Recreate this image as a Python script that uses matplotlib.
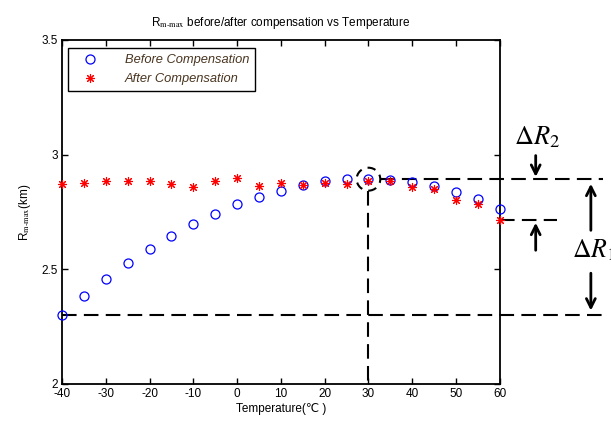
import numpy as np
import matplotlib
matplotlib.use("Agg")
import matplotlib.pyplot as plt
from matplotlib.patches import Ellipse

# Data
temps = [-40, -35, -30, -25, -20, -15, -10, -5, 0, 5, 10, 15, 20, 25, 30, 35, 40, 45, 50, 55, 60]
before = [2.30, 2.384, 2.458, 2.527, 2.590, 2.646, 2.696, 2.743, 2.783, 2.814, 2.843,
          2.867, 2.884, 2.893, 2.893, 2.890, 2.880, 2.864, 2.836, 2.806, 2.761]
after = [2.874, 2.877, 2.887, 2.883, 2.887, 2.872, 2.858, 2.883, 2.900, 2.862, 2.878,
         2.868, 2.878, 2.871, 2.884, 2.883, 2.858, 2.850, 2.804, 2.786, 2.713]
xticks = [-40, -30, -20, -10, 0, 10, 20, 30, 40, 50, 60]
yticks = [2, 2.5, 3, 3.5]

plt.rcParams['font.family'] = ['Liberation Sans', 'DejaVu Sans']
plt.rcParams['mathtext.fontset'] = 'stix'
plt.rcParams['axes.unicode_minus'] = False

fig = plt.figure(figsize=(6.11, 4.21), dpi=100)
ax = fig.add_axes([0.1015, 0.088, 0.7165, 0.817])

ax.plot(temps, before, 'o', ls='none', mfc='none', mec='#0000ff', ms=6.5, mew=0.9,
        label='Before Compensation', clip_on=False, zorder=3)
ax.plot(temps, after, marker=(8, 2, 0), ls='none', color='#ff0000', ms=6.5, mew=0.8,
        label='After Compensation', clip_on=False, zorder=3)

ax.set_xlim(-40, 60)
ax.set_ylim(2, 3.5)
ax.set_xticks(xticks)
ax.set_yticks(yticks)
ax.set_yticklabels(['2', '2.5', '3', '3.5'])
ax.tick_params(direction='in', length=4, width=1, top=True, right=True, labelsize=8.5, pad=3)
for s in ax.spines.values():
    s.set_linewidth(1.3)

ax.set_title(r'R$_{\mathrm{m\text{-}max}}$ before/after compensation vs Temperature', fontsize=8.5, pad=10)
ax.set_xlabel('Temperature(℃ )', fontsize=8.5, labelpad=2)
ax.set_ylabel(r'R$_{\mathrm{m\text{-}max}}$(km)', fontsize=8.5, labelpad=6)

leg = ax.legend(loc='upper left', bbox_to_anchor=(0.0, 0.995), fancybox=False, framealpha=1,
                edgecolor='black', fontsize=9.3, handletextpad=1.4, borderpad=0.45,
                labelspacing=0.55, handlelength=2.5)
leg.get_frame().set_linewidth(1.0)
for t in leg.get_texts():
    t.set_color('#4a3520')
    t.set_style('italic')

# annotation lines
top = max(before)
mid = after[-1]
low = before[0]
dash = (0, (7, 3.5))
lw = 1.5
ax.add_patch(Ellipse((30, top), 5.4, 0.1, fill=False, ls=(0, (4, 3)), lw=lw, color='black'))
ax.plot([32.7, 83.5], [top, top], color='black', ls=dash, lw=lw, clip_on=False)
ax.plot([30, 30], [top - 0.05, 2.0], color='black', ls=dash, lw=lw, clip_on=False)
ax.plot([60, 73], [mid, mid], color='black', ls=dash, lw=lw, clip_on=False)
ax.plot([-40, 83.5], [low, low], color='black', ls=dash, lw=lw, clip_on=False)

arr = dict(arrowstyle='->', color='black', lw=2, mutation_scale=16, shrinkA=0, shrinkB=0)
ax.annotate('', xy=(68.2, top + 0.01), xytext=(68.2, 2.996), arrowprops=arr, annotation_clip=False)
ax.annotate('', xy=(68.2, mid - 0.01), xytext=(68.2, 2.583), arrowprops=arr, annotation_clip=False)
ax.annotate('', xy=(80.8, top - 0.02), xytext=(80.8, 2.67), arrowprops=arr, annotation_clip=False)
ax.annotate('', xy=(80.8, low + 0.02), xytext=(80.8, 2.483), arrowprops=arr, annotation_clip=False)
ax.text(68.4, 3.074, r'$\Delta R_2$', fontsize=19, ha='center', va='center', clip_on=False)
ax.text(76.6, 2.583, r'$\Delta R_1$', fontsize=18.5, ha='left', va='center', clip_on=False)

fig.savefig('out.png', dpi=100)
